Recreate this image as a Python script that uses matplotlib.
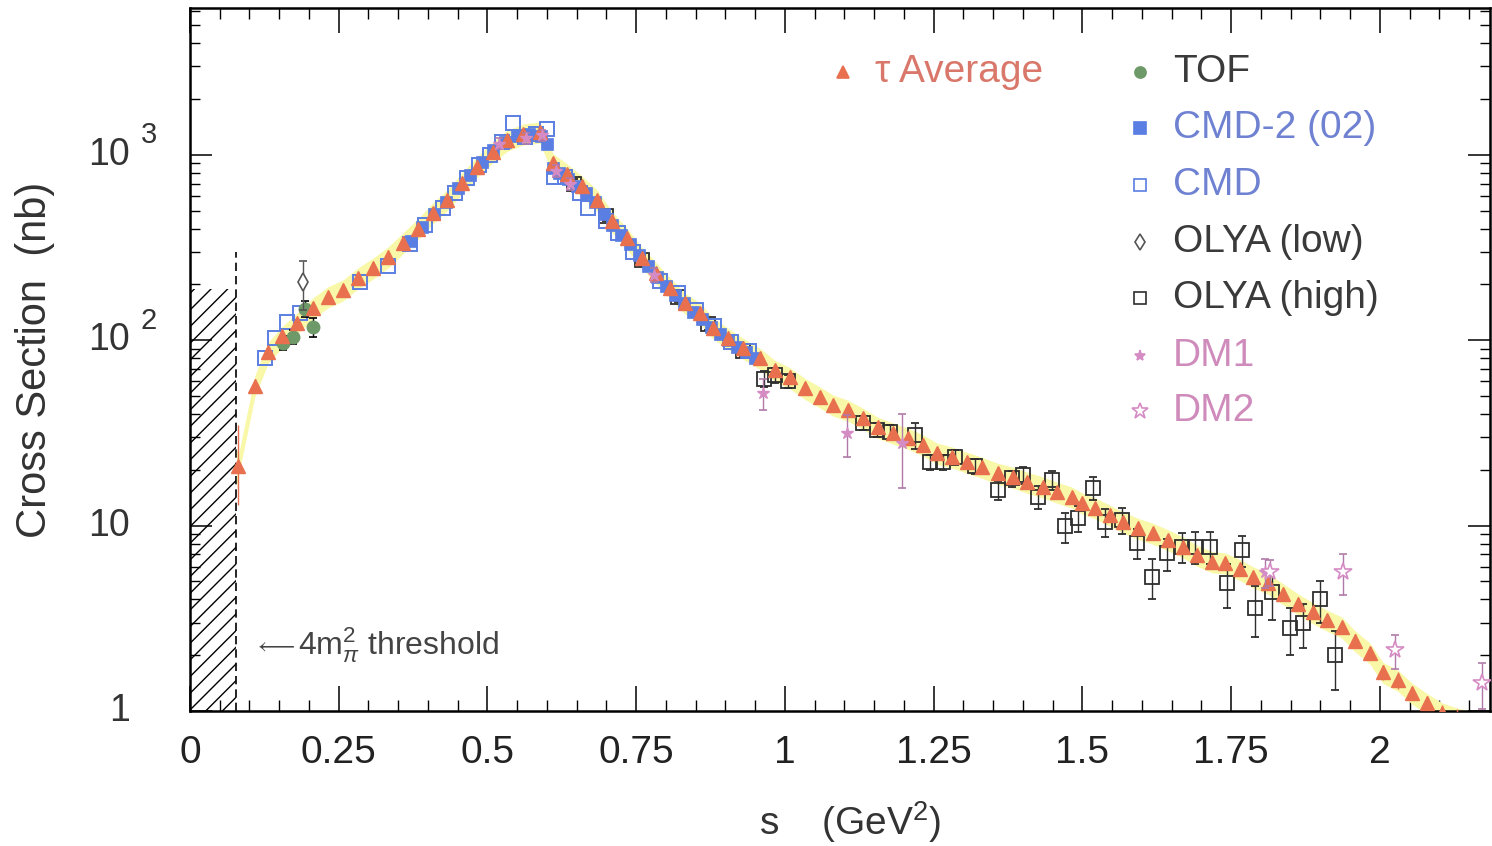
import numpy as np
import matplotlib
matplotlib.use("Agg")
import matplotlib.pyplot as plt
from matplotlib import transforms

plt.rcParams['font.family'] = ['Liberation Sans', 'DejaVu Sans']
plt.rcParams['mathtext.fontset'] = 'custom'
plt.rcParams['mathtext.rm'] = 'Liberation Sans'
plt.rcParams['mathtext.it'] = 'Liberation Sans:italic'
plt.rcParams['hatch.linewidth'] = 1.0

# ---------------- data ----------------
threshold_s = 0.078          # 4 m_pi^2 in GeV^2
band_rel = 0.13              # relative half-width of the tau band

tau_s = [0.081, 0.109, 0.131, 0.155, 0.180, 0.207, 0.232, 0.257, 0.282, 0.308,
         0.333, 0.358, 0.383, 0.408, 0.432, 0.457, 0.482, 0.509, 0.533, 0.560,
         0.588, 0.610, 0.634, 0.659, 0.684, 0.709, 0.734, 0.760, 0.784, 0.807,
         0.832, 0.857, 0.879, 0.904, 0.929, 0.958, 0.983, 1.008, 1.034, 1.059,
         1.081, 1.106, 1.131, 1.156, 1.182, 1.207, 1.232, 1.255, 1.281, 1.306,
         1.331, 1.358, 1.383, 1.407, 1.434, 1.457, 1.482, 1.499, 1.521, 1.546,
         1.568, 1.593, 1.619, 1.644, 1.669, 1.692, 1.718, 1.740, 1.765, 1.787,
         1.812, 1.837, 1.862, 1.887, 1.911, 1.936, 1.958, 1.983, 2.005, 2.030,
         2.054, 2.079, 2.104, 2.129, 2.154, 2.179]
tau_v = [21.0, 57.0, 86.0, 105.0, 124.0, 150.0, 172.0, 187.0, 217.0, 246.0,
         282.0, 336.0, 400.0, 487.0, 573.0, 707.0, 863.0, 1040.0, 1200.0, 1300.0,
         1330.0, 900.0, 790.0, 680.0, 573.0, 440.0, 357.0, 279.0, 231.0, 192.0,
         159.0, 141.0, 117.0, 103.0, 91.0, 80.0, 69.0, 63.0, 55.0, 49.5,
         44.8, 42.0, 38.0, 34.0, 31.6, 29.7, 27.3, 24.7, 23.5, 22.0,
         20.7, 19.2, 18.3, 17.2, 16.2, 15.2, 14.3, 13.3, 12.5, 11.4,
         10.5, 9.7, 9.1, 8.4, 7.7, 6.95, 6.4, 6.3, 5.8, 5.3,
         4.9, 4.3, 3.8, 3.4, 3.1, 2.84, 2.4, 2.06, 1.62, 1.47,
         1.25, 1.10, 0.98, 0.92, 0.88, 0.85]
tau_lo = [8.0, 5.0, 5.0, 5.0, 5.0, 5.0, 5.0, 5.0, 6.0, 6.0,
          7.0, 8.0, 9.0, 10.0, 11.0, 13.0, 15.0, 17.0, 19.0, 20.0,
          20.0, 15.0, 13.0, 11.0, 10.0, 8.0, 7.0, 5.0, 4.0, 4.0,
          3.0, 3.0, 3.0, 2.0, 2.0, 2.0, 2.0, 1.5, 1.5, 1.2,
          1.1, 1.0, 1.0, 0.9, 0.9, 0.8, 0.8, 0.7, 0.7, 0.7,
          0.6, 0.6, 0.6, 0.6, 0.5, 0.5, 0.5, 0.5, 0.5, 0.4,
          0.4, 0.4, 0.4, 0.4, 0.3, 0.3, 0.3, 0.3, 0.3, 0.3,
          0.3, 0.3, 0.2, 0.2, 0.2, 0.2, 0.2, 0.15, 0.15, 0.15,
          0.1, 0.1, 0.1, 0.1, 0.1, 0.1]
tau_hi = [14.0, 5.0, 5.0, 5.0, 5.0, 5.0, 5.0, 5.0, 6.0, 6.0,
          7.0, 8.0, 9.0, 10.0, 11.0, 13.0, 15.0, 17.0, 19.0, 20.0,
          20.0, 15.0, 13.0, 11.0, 10.0, 8.0, 7.0, 5.0, 4.0, 4.0,
          3.0, 3.0, 3.0, 2.0, 2.0, 2.0, 2.0, 1.5, 1.5, 1.2,
          1.1, 1.0, 1.0, 0.9, 0.9, 0.8, 0.8, 0.7, 0.7, 0.7,
          0.6, 0.6, 0.6, 0.6, 0.5, 0.5, 0.5, 0.5, 0.5, 0.4,
          0.4, 0.4, 0.4, 0.4, 0.3, 0.3, 0.3, 0.3, 0.3, 0.3,
          0.3, 0.3, 0.2, 0.2, 0.2, 0.2, 0.2, 0.15, 0.15, 0.15,
          0.1, 0.1, 0.1, 0.1, 0.1, 0.1]

tof_s = [0.156, 0.173, 0.193, 0.207]
tof_v = [97.0, 104.0, 148.0, 118.0]
tof_e = [8.0, 9.0, 14.0, 14.0]

cmd2_s = [0.372, 0.390, 0.410, 0.430, 0.450, 0.470, 0.490, 0.510, 0.530, 0.550,
          0.570, 0.590, 0.600, 0.610, 0.620, 0.635, 0.650, 0.665, 0.680, 0.695,
          0.710, 0.725, 0.740, 0.755, 0.770, 0.785, 0.800, 0.815, 0.830, 0.845,
          0.860, 0.875, 0.890, 0.905, 0.920, 0.935, 0.950]
cmd2_v = [345.0, 410.0, 480.0, 560.0, 660.0, 780.0, 920.0, 1060.0, 1180.0, 1260.0,
          1290.0, 1270.0, 1150.0, 850.0, 800.0, 740.0, 680.0, 620.0, 560.0, 480.0,
          420.0, 370.0, 330.0, 290.0, 250.0, 220.0, 195.0, 175.0, 158.0, 142.0,
          130.0, 118.0, 108.0, 100.0, 92.0, 86.0, 80.0]

cmd_s = [0.126, 0.143, 0.163, 0.185, 0.286, 0.333, 0.370, 0.395, 0.425, 0.445,
         0.465, 0.485, 0.505, 0.525, 0.543, 0.563, 0.582, 0.600, 0.612, 0.630,
         0.655, 0.669, 0.700, 0.720, 0.745, 0.790, 0.820, 0.850, 0.880, 0.910,
         0.940]
cmd_v = [80.0, 103.0, 126.0, 141.0, 205.0, 250.0, 330.0, 420.0, 520.0, 620.0,
         750.0, 880.0, 1000.0, 1180.0, 1480.0, 1250.0, 1300.0, 1380.0, 760.0, 760.0,
         620.0, 518.0, 440.0, 380.0, 300.0, 210.0, 180.0, 145.0, 120.0, 98.0,
         88.0]

olya_low_s = [0.190]
olya_low_v = [206.0]
olya_low_e = [60.0]

olya_high_s = [0.645, 0.700, 0.760, 0.820, 0.870, 0.930, 0.965, 0.983, 1.005,
               1.131, 1.155, 1.176, 1.218, 1.244, 1.266, 1.286, 1.319, 1.358,
               1.381, 1.400, 1.425, 1.449, 1.471, 1.492, 1.518, 1.538, 1.566,
               1.591, 1.617, 1.642, 1.667, 1.689, 1.714, 1.743, 1.768, 1.790,
               1.818, 1.849, 1.871, 1.899, 1.924]
olya_high_v = [700.0, 470.0, 270.0, 172.0, 122.0, 88.0, 62.0, 65.0, 60.0,
               36.0, 33.0, 32.0, 31.0, 22.0, 22.0, 23.5, 21.0, 15.6,
               18.0, 18.8, 14.3, 17.6, 9.9, 11.0, 16.0, 10.5, 10.7,
               8.1, 5.3, 7.1, 7.7, 7.7, 7.7, 4.9, 7.4, 3.6,
               4.4, 2.8, 3.0, 4.0, 2.0]
olya_high_e = [40.0, 30.0, 18.0, 12.0, 9.0, 7.0, 6.0, 6.0, 5.0,
               3.0, 3.0, 3.0, 5.0, 2.0, 2.0, 2.2, 2.0, 1.8,
               1.8, 2.0, 2.0, 2.0, 1.8, 1.8, 2.2, 1.8, 1.7,
               1.5, 1.3, 1.4, 1.4, 1.5, 1.5, 1.3, 1.4, 1.1,
               1.3, 0.8, 0.8, 1.0, 0.7]

dm1_s = [0.520, 0.565, 0.592, 0.615, 0.638, 0.780, 0.963, 1.104, 1.197, 1.807]
dm1_v = [1150.0, 1230.0, 1280.0, 820.0, 700.0, 225.0, 52.0, 31.6, 27.9, 5.6]
dm1_e = [80.0, 90.0, 90.0, 60.0, 50.0, 20.0, 10.0, 8.0, 12.0, 1.0]

dm2_s = [1.815, 1.938, 2.025, 2.171]
dm2_v = [5.6, 5.6, 2.13, 1.42]
dm2_e = [0.9, 1.4, 0.45, 0.4]

# ---------------- colours ----------------
c_tau = '#e8704f'
c_band = '#f8f8a8'
c_tof = '#6e9968'
c_cmd2 = '#5a7ee2'
c_cmd = '#5a7ee2'
c_olya = '#2e2e2e'
c_dm = '#d58cc4'
c_text_tau = '#d9776a'
c_text_blue = '#6f82d2'
c_text_dark = '#3a3a3a'
c_text_pink = '#cf8bbb'

fig = plt.figure(figsize=(14.92, 8.46), dpi=100)
ax = fig.add_axes([190 / 1492, 1 - 711 / 846, 1300 / 1492, 703 / 846])
ax.set_yscale('log')
ax.set_xlim(0, 2.185)
ax.set_ylim(1, 6200)

tau_s_a = np.array(tau_s)
tau_v_a = np.array(tau_v)

# region below the two-pion threshold
ax.fill_between([0, threshold_s], 1, 190, facecolor='none', edgecolor='black',
                hatch='//', linewidth=0, zorder=1)
ax.plot([threshold_s, threshold_s], [1, 300], color='black', lw=1.2,
        dashes=(5, 3), zorder=2)

# theory band following the tau average
ax.fill_between(np.concatenate([[threshold_s], tau_s_a]),
                np.concatenate([[tau_v_a[0] * 0.75], tau_v_a * (1 - band_rel)]),
                np.concatenate([[tau_v_a[0] * 1.25], tau_v_a * (1 + band_rel)]),
                color=c_band, linewidth=0, zorder=2)

eb_kw = dict(elinewidth=1.0, capsize=3, capthick=1.2, linestyle='none')

ax.errorbar(olya_high_s, olya_high_v, yerr=olya_high_e, marker='s', ms=10,
            mfc='none', mec=c_olya, mew=1.3, ecolor=c_olya, zorder=3, **eb_kw)
ax.errorbar(cmd_s, cmd_v, marker='s', ms=10, mfc='none', mec=c_cmd, mew=1.4,
            zorder=4, linestyle='none')
ax.errorbar(cmd2_s, cmd2_v, marker='s', ms=9, mfc=c_cmd2, mec=c_cmd2, mew=0.5,
            zorder=5, linestyle='none')
ax.errorbar(tof_s, tof_v, yerr=tof_e, marker='o', ms=9, mfc=c_tof, mec=c_tof,
            ecolor='black', zorder=5, **eb_kw)
ax.errorbar(olya_low_s, olya_low_v, yerr=olya_low_e, marker='d', ms=9,
            mfc='white', mec='#555555', mew=1.2, ecolor='#555555', zorder=6,
            **eb_kw)
ax.errorbar(tau_s, tau_v, yerr=[tau_lo, tau_hi], marker='^', ms=10,
            mfc=c_tau, mec=c_tau, ecolor=c_tau, elinewidth=1.0, capsize=0,
            linestyle='none', zorder=7)
ax.errorbar(dm1_s, dm1_v, yerr=dm1_e, marker='*', ms=9, mfc=c_dm, mec=c_dm,
            ecolor='#b07aa8', zorder=8, **eb_kw)
ax.errorbar(dm2_s, dm2_v, yerr=dm2_e, marker='*', ms=13, mfc='white', mec=c_dm,
            mew=1.2, ecolor='#b07aa8', zorder=8, **eb_kw)

# axes styling
for sp in ax.spines.values():
    sp.set_linewidth(1.8)
ax.set_xticks([0, 0.25, 0.5, 0.75, 1.0, 1.25, 1.5, 1.75, 2.0])
ax.set_xticks(np.arange(0.05, 2.18, 0.05), minor=True)
ax.set_xticklabels(['0', '0.25', '0.5', '0.75', '1', '1.25', '1.5', '1.75', '2'])
ax.tick_params(axis='x', which='major', direction='in', length=18, width=1.1,
               top=True, labelsize=28, pad=17, colors='black')
ax.tick_params(axis='x', which='minor', direction='in', length=8, width=1.0,
               top=True)
ax.tick_params(axis='y', which='major', direction='in', length=16, width=1.1,
               right=True, labelleft=False)
ax.tick_params(axis='y', which='minor', direction='in', length=7, width=1.0,
               right=True, labelleft=False)
ax.yaxis.set_minor_formatter(matplotlib.ticker.NullFormatter())
for lab in ax.get_xticklabels():
    lab.set_color('#222222')

# y tick labels: "10" with a detached exponent
ylab_tr = transforms.blended_transform_factory(ax.transAxes, ax.transData)
ytick_vals = [1, 10, 100, 1000]
ytick_mant = ['1', '10', '10', '10']
ytick_exp = ['', '', '2', '3']
for val, mant, ex in zip(ytick_vals, ytick_mant, ytick_exp):
    ax.text(-60 / 1300, val, mant, transform=ylab_tr, ha='right', va='center',
            fontsize=27, color='#333333', clip_on=False)
    if ex:
        tr = transforms.offset_copy(ylab_tr, fig=fig, x=0, y=14, units='points')
        ax.text(-49 / 1300, val, ex, transform=tr, ha='left', va='center',
                fontsize=21, color='#333333', clip_on=False)

fig.text(35 / 1492, 1 - 360 / 846, 'Cross Section  (nb)', rotation=90,
         ha='center', va='center', fontsize=30, color='#333333')
fig.text(850 / 1492, 1 - 822 / 846, 's    (GeV$^2$)', ha='center', va='center',
         fontsize=28, color='#333333')

# threshold annotation
ax.text((254 - 190) / 1300, 1 - (646 - 8) / 703, r'$\longleftarrow$',
        transform=ax.transAxes, ha='left', va='center', fontsize=17,
        color='#444444')
ax.text((298 - 190) / 1300, 1 - (645 - 8) / 703, r'4m$^{2}_{\pi}$ threshold',
        transform=ax.transAxes, ha='left', va='center', fontsize=23,
        color='#444444')

# legend drawn as marker + label rows
leg_rows = [
    (0.502, 0.909, '^', c_tau, c_tau, 9, 'τ Average', c_text_tau),
    (0.731, 0.909, 'o', c_tof, c_tof, 8, 'TOF', c_text_dark),
    (0.731, 0.829, 's', c_cmd2, c_cmd2, 8, 'CMD-2 (02)', c_text_blue),
    (0.731, 0.748, 's', 'none', c_cmd, 9, 'CMD', c_text_blue),
    (0.731, 0.667, 'd', 'white', '#555555', 8, 'OLYA (low)', c_text_dark),
    (0.731, 0.587, 's', 'none', c_olya, 9, 'OLYA (high)', c_text_dark),
    (0.731, 0.505, '*', c_dm, c_dm, 8, 'DM1', c_text_pink),
    (0.731, 0.427, '*', 'white', c_dm, 12, 'DM2', c_text_pink),
]
for x, y, m, fc, ec, ms, label, tc in leg_rows:
    ax.plot([x], [y], marker=m, ms=ms, mfc=fc, mec=ec, mew=1.2,
            transform=ax.transAxes, linestyle='none', clip_on=False, zorder=9)
    ax.text(x + 0.025, y, label, transform=ax.transAxes, ha='left',
            va='center', fontsize=28, color=tc, zorder=9)

fig.savefig('out.png', dpi=100, facecolor='white')
